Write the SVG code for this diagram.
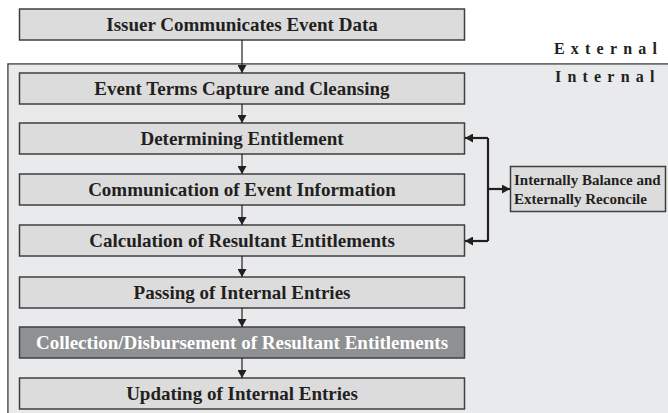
<svg xmlns="http://www.w3.org/2000/svg" width="668" height="413" viewBox="0 0 668 413">
<style>
.box{fill:#dcdcdd;stroke:#3f3f40;stroke-width:1.5}
.dark{fill:#8f9092;stroke:#3f3f40;stroke-width:1.5}
.t{font-family:"Liberation Serif","Times New Roman",serif;font-weight:bold;font-size:19px;fill:#231f20;text-anchor:middle}
.tw{fill:#ffffff}
.st{font-family:"Liberation Serif","Times New Roman",serif;font-weight:bold;font-size:15px;fill:#231f20}
.lab{font-family:"Liberation Serif","Times New Roman",serif;font-weight:bold;font-size:16px;fill:#231f20;letter-spacing:6.2px}
.ln{stroke:#231f20;stroke-width:1.2;fill:none}
.bk{stroke:#231f20;stroke-width:2.2;fill:none}
</style>
<defs>
<marker id="ah" markerWidth="8" markerHeight="9" refX="8" refY="4.5" orient="auto" markerUnits="userSpaceOnUse">
<path d="M0,0 L8,4.5 L0,9 Z" fill="#231f20"/>
</marker>
</defs>
<rect width="668" height="413" fill="#ffffff"/>
<g id="zone">
<path d="M670,64 L8,64 L8,415" fill="#e9eaeb" stroke="#3f3f40" stroke-width="1.5"/>
<rect x="8.75" y="64.75" width="660" height="350" fill="#e9eaeb"/>
<text class="lab" x="554" y="54">External</text>
<text class="lab" x="555" y="82">Internal</text>
</g>
<g id="n1"><rect class="box" x="19.5" y="9" width="445" height="31"/><text class="t" x="242" y="31">Issuer Communicates Event Data</text></g>
<g id="n2"><rect class="box" x="19.5" y="73" width="445" height="31"/><text class="t" x="242" y="95">Event Terms Capture and Cleansing</text></g>
<g id="n3"><rect class="box" x="19.5" y="123" width="445" height="31"/><text class="t" x="242" y="145">Determining Entitlement</text></g>
<g id="n4"><rect class="box" x="19.5" y="174" width="445" height="31"/><text class="t" x="242" y="196">Communication of Event Information</text></g>
<g id="n5"><rect class="box" x="19.5" y="225" width="445" height="31"/><text class="t" x="242" y="247">Calculation of Resultant Entitlements</text></g>
<g id="n6"><rect class="box" x="19.5" y="277" width="445" height="31"/><text class="t" x="242" y="299">Passing of Internal Entries</text></g>
<g id="n7"><rect class="dark" x="19.5" y="327" width="445" height="31"/><text class="t tw" x="242" y="349">Collection/Disbursement of Resultant Entitlements</text></g>
<g id="n8"><rect class="box" x="19.5" y="378" width="445" height="31"/><text class="t" x="242" y="400">Updating of Internal Entries</text></g>
<g id="n9"><rect class="box" x="510.5" y="166.5" width="155" height="45"/><text class="st" x="514" y="185">Internally Balance and</text><text class="st" x="514" y="204">Externally Reconcile</text></g>
<g id="connectors">
<line class="ln" x1="242" y1="40" x2="242" y2="73" marker-end="url(#ah)"/>
<line class="ln" x1="242" y1="104" x2="242" y2="123" marker-end="url(#ah)"/>
<line class="ln" x1="242" y1="154" x2="242" y2="174" marker-end="url(#ah)"/>
<line class="ln" x1="242" y1="205" x2="242" y2="225" marker-end="url(#ah)"/>
<line class="ln" x1="242" y1="256" x2="242" y2="277" marker-end="url(#ah)"/>
<line class="ln" x1="242" y1="308" x2="242" y2="327" marker-end="url(#ah)"/>
<line class="ln" x1="242" y1="358" x2="242" y2="378" marker-end="url(#ah)"/>
<path class="bk" d="M488,138 L488,241"/>
<line class="bk" x1="488" y1="138" x2="465" y2="138" marker-end="url(#ah)"/>
<line class="bk" x1="488" y1="241" x2="465" y2="241" marker-end="url(#ah)"/>
<line class="bk" x1="487" y1="189" x2="510" y2="189" marker-end="url(#ah)"/>
</g>
</svg>
